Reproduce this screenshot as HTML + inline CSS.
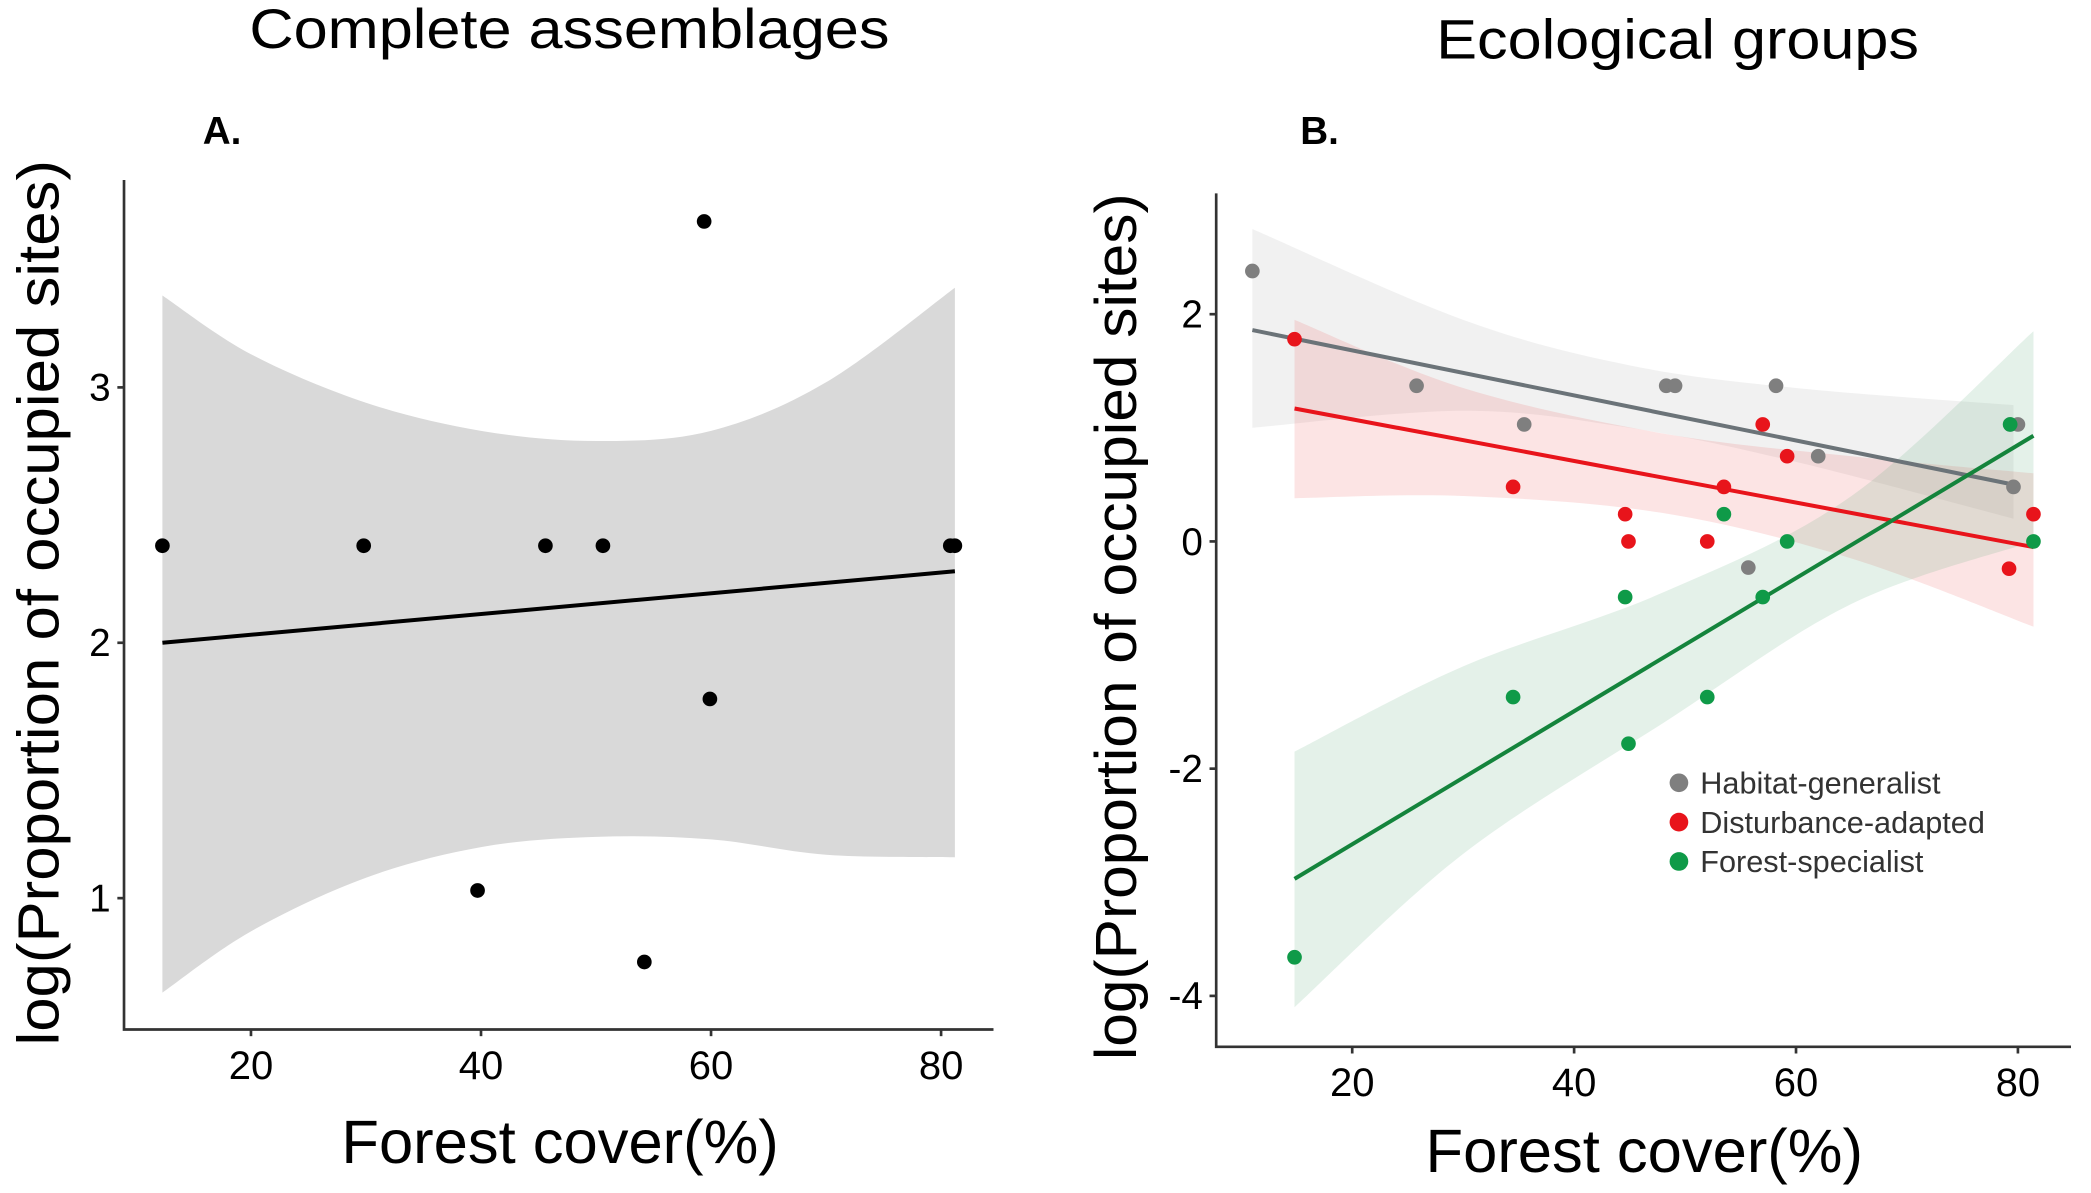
<!DOCTYPE html>
<html><head><meta charset="utf-8"><style>
html,body{margin:0;padding:0;background:#fff;overflow:hidden;}
svg{display:block;font-family:"Liberation Sans",sans-serif;}
</style></head><body>
<svg id="fig" width="2091" height="1193" viewBox="0 0 1568 894.6">
<text x="427" y="36" font-size="42" textLength="480" lengthAdjust="spacingAndGlyphs" text-anchor="middle">Complete assemblages</text>
<text x="152" y="108" font-size="29" font-weight="bold">A.</text>
<text x="1258" y="44" font-size="42" textLength="362" lengthAdjust="spacingAndGlyphs" text-anchor="middle">Ecological groups</text>
<text x="975" y="108" font-size="29" font-weight="bold">B.</text>
<text transform="translate(44,452) rotate(-90)" font-size="44" textLength="664" lengthAdjust="spacingAndGlyphs" text-anchor="middle">log(Proportion of occupied sites)</text>
<text x="420" y="872" font-size="46" textLength="328" lengthAdjust="spacingAndGlyphs" text-anchor="middle">Forest cover(%)</text>
<text transform="translate(852,470) rotate(-90)" font-size="44" textLength="650" lengthAdjust="spacingAndGlyphs" text-anchor="middle">log(Proportion of occupied sites)</text>
<text x="1233" y="879" font-size="46" textLength="328" lengthAdjust="spacingAndGlyphs" text-anchor="middle">Forest cover(%)</text>
<g id="pa"></g>
<g id="pb"></g>
</svg>
<script>
// Panel A data
const aX = [12.3, 29.8, 45.6, 50.6, 80.8, 81.2, 59.4, 59.9, 39.7, 54.2];
const aY = [2.38, 2.38, 2.38, 2.38, 2.38, 2.38, 3.65, 1.78, 1.03, 0.75];
const aLine = [[12.3, 2.0], [81.2, 2.28]];
const aBandX = [12.3, 20, 30, 40, 50, 60, 70, 81.2];
const aBandUp = [3.36, 3.13, 2.94, 2.83, 2.79, 2.83, 3.02, 3.39];
const aBandLo = [0.63, 0.87, 1.08, 1.20, 1.24, 1.23, 1.17, 1.16];
const aXTicks = [20, 40, 60, 80];
const aYTicks = [1, 2, 3];
// Panel B data
const gX = [11, 25.8, 35.5, 48.3, 49.1, 58.2, 62, 55.7, 79.3, 80, 79.6];
const gY = [2.38, 1.37, 1.03, 1.37, 1.37, 1.37, 0.75, -0.23, 1.03, 1.03, 0.48];
const rX = [14.8, 34.5, 44.6, 44.9, 52, 53.5, 57, 59.2, 79.2, 81.4];
const rY = [1.78, 0.48, 0.24, 0, 0, 0.48, 1.03, 0.75, -0.24, 0.24];
const fX = [14.8, 34.5, 44.6, 44.9, 52, 53.5, 57, 59.2, 79.3, 81.4];
const fY = [-3.66, -1.37, -0.49, -1.78, -1.37, 0.24, -0.49, 0, 1.03, 0];
const gLine = [[11, 1.86], [79.6, 0.5]];
const rLine = [[14.8, 1.17], [81.4, -0.05]];
const fLine = [[14.8, -2.97], [81.4, 0.93]];
const gBandX = [11, 30, 45, 60, 79.6];
const gBandUp = [2.75, 1.95, 1.55, 1.35, 1.2];
const gBandLo = [1.0, 1.15, 1.0, 0.7, 0.2];
const rBandX = [14.8, 30, 48, 65, 81.4];
const rBandUp = [1.95, 1.35, 0.95, 0.75, 0.6];
const rBandLo = [0.38, 0.4, 0.25, -0.15, -0.75];
const fBandX = [14.8, 30, 48, 65, 81.4];
const fBandUp = [-1.85, -1.1, -0.45, 0.4, 1.85];
const fBandLo = [-4.1, -2.75, -1.6, -0.55, 0.0];
const bXTicks = [20, 40, 60, 80];
const bYTicks = [-4, -2, 0, 2];
const bYLabels = ["-4", "-2", "0", "2"];

const NS = "http://www.w3.org/2000/svg";
function mk(parent, tag, attrs) {
  const e = document.createElementNS(NS, tag);
  for (const k in attrs) e.setAttribute(k, attrs[k]);
  parent.appendChild(e);
  return e;
}
function curve(pts) {
  let d = "";
  for (let i = 0; i < pts.length - 1; i++) {
    const p0 = pts[i - 1] || pts[i], p1 = pts[i], p2 = pts[i + 1], p3 = pts[i + 2] || p2;
    const c1 = [p1[0] + (p2[0] - p0[0]) / 6, p1[1] + (p2[1] - p0[1]) / 6];
    const c2 = [p2[0] - (p3[0] - p1[0]) / 6, p2[1] - (p3[1] - p1[1]) / 6];
    d += " C" + c1[0] + "," + c1[1] + " " + c2[0] + "," + c2[1] + " " + p2[0] + "," + p2[1];
  }
  return d;
}
function band(g, sx, sy, bx, up, lo, fill, name) {
  const u = bx.map((x, i) => [sx(x), sy(up[i])]);
  const l = bx.map((x, i) => [sx(x), sy(lo[i])]).reverse();
  const d = "M" + u[0][0] + "," + u[0][1] + curve(u) + " L" + l[0][0] + "," + l[0][1] + curve(l) + " Z";
  const p = mk(g, "path", {d: d, fill: fill, stroke: "none"});
  
  
}
function line(g, sx, sy, L, col, name) {
  const p = mk(g, "line", {x1: sx(L[0][0]), y1: sy(L[0][1]), x2: sx(L[1][0]), y2: sy(L[1][1]), stroke: col, "stroke-width": 3});
  
  
}
function points(g, sx, sy, xs, ys, col, name) {
  xs.forEach((x, i) => {
    const c = mk(g, "circle", {cx: sx(x), cy: sy(ys[i]), r: 5.5, fill: col});
    
    
  });
}
function axes(g, x0, x1, y0, y1, sx, sy, xt, yt, yl) {
  const a = mk(g, "path", {d: `M${x0},${y0}V${y1}H${x1}`, fill: "none", stroke: "#333", "stroke-width": 2});
  
  
  xt.forEach(v => {
    mk(g, "line", {x1: sx(v), x2: sx(v), y1: y1, y2: y1 + 5, stroke: "#333", "stroke-width": 2});
    const t = mk(g, "text", {x: sx(v), y: y1 + 37, "font-size": 30, "text-anchor": "middle"});
    t.textContent = v;
    
    
  });
  yt.forEach((v, i) => {
    mk(g, "line", {x1: x0 - 5, x2: x0, y1: sy(v), y2: sy(v), stroke: "#333", "stroke-width": 2});
    const t = mk(g, "text", {x: x0 - 10, y: sy(v) + 10, "font-size": 29, "text-anchor": "end"});
    t.textContent = yl ? yl[i] : v;
    
    
  });
}
// Panel A
const ga = document.getElementById("pa");
const axf = v => 188.2 + (v - 20) * 8.625;
const ayf = v => 482 - (v - 2) * 191.5;
band(ga, axf, ayf, aBandX, aBandUp, aBandLo, "#d9d9d9", "confidence-band");
line(ga, axf, ayf, aLine, "#000", "regression-line");
points(ga, axf, ayf, aX, aY, "#000", "data-point");
axes(ga, 93, 745, 135, 772, axf, ayf, aXTicks, aYTicks, null);
// Panel B
const gb = document.getElementById("pb");
const bxf = v => 1014 + (v - 20) * 8.32;
const byf = v => 406 - v * 85.2;
band(gb, bxf, byf, gBandX, gBandUp, gBandLo, "rgba(215,215,215,0.35)", "generalist-band");
band(gb, bxf, byf, rBandX, rBandUp, rBandLo, "rgba(240,120,120,0.2)", "disturbance-band");
band(gb, bxf, byf, fBandX, fBandUp, fBandLo, "rgba(90,170,120,0.16)", "specialist-band");
line(gb, bxf, byf, gLine, "#6b7378", "generalist-line");
line(gb, bxf, byf, rLine, "#e8141b", "disturbance-line");
line(gb, bxf, byf, fLine, "#14843c", "specialist-line");
points(gb, bxf, byf, gX, gY, "#7f7f7f", "generalist-point");
points(gb, bxf, byf, rX, rY, "#e8141b", "disturbance-point");
points(gb, bxf, byf, fX, fY, "#0f9a48", "specialist-point");
axes(gb, 912, 1553, 145, 785, bxf, byf, bXTicks, bYTicks, bYLabels);
// Legend
const legNames = ["Habitat-generalist", "Disturbance-adapted", "Forest-specialist"];
const legCols = ["#7f7f7f", "#e8141b", "#0f9a48"];
legNames.forEach((n, i) => {
  const y = 587 + i * 29.5;
  const c = mk(gb, "circle", {cx: 1259, cy: y, r: 7, fill: legCols[i]});
  
  
  const t = mk(gb, "text", {x: 1275, y: y + 8, "font-size": 23, fill: "#333"});
  t.textContent = n;
  
  
});
</script>
</body></html>
